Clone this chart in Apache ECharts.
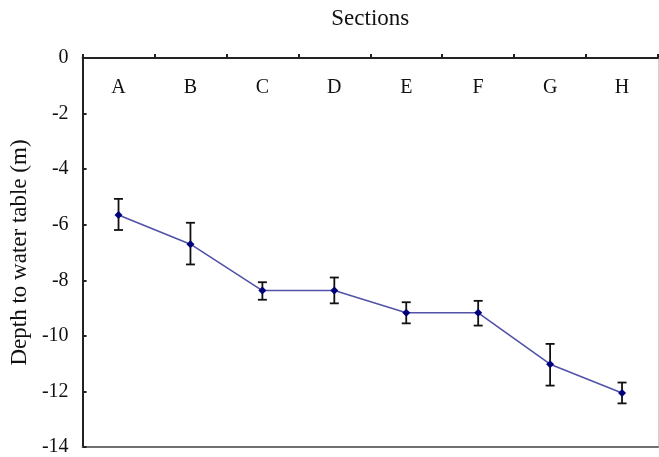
<!DOCTYPE html>
<html>
<head>
<meta charset="utf-8">
<script src="https://cdn.jsdelivr.net/npm/echarts@6/dist/echarts.min.js"></script>
<style>
html,body{margin:0;padding:0;background:#fff;}
#chart{width:659px;height:457px;}
</style>
</head>
<body>
<div id="chart"></div>
<script>
var categories = ['A', 'B', 'C', 'D', 'E', 'F', 'G', 'H'];
var depth = [-5.65, -6.70, -8.37, -8.37, -9.17, -9.17, -11.02, -12.06];
var errUpper = [-5.07, -5.93, -8.07, -7.90, -8.79, -8.74, -10.29, -11.68];
var errLower = [-6.19, -7.43, -8.70, -8.83, -9.55, -9.63, -11.79, -12.43];
var yTicks = [0, -2, -4, -6, -8, -10, -12, -14];

var FONT = '"Liberation Serif", "Times New Roman", serif';
var chart = echarts.init(document.getElementById('chart'));
chart.setOption({
  animation: false,
  backgroundColor: '#fff',
  grid: {left: 82, top: 58, right: 1, bottom: 7, containLabel: false},
  xAxis: [{
    type: 'category',
    position: 'top',
    data: categories,
    boundaryGap: true,
    name: 'Sections',
    nameLocation: 'middle',
    nameGap: 28,
    nameTextStyle: {fontFamily: FONT, fontSize: 23, color: '#111'},
    axisLine: {show: true, onZero: false, lineStyle: {color: '#222', width: 2}},
    axisTick: {show: true, inside: false, length: 4, lineStyle: {color: '#222', width: 2}},
    axisLabel: {inside: true, margin: 20, fontFamily: FONT, fontSize: 20, color: '#111'},
    splitLine: {show: false}
  }, {
    type: 'category',
    position: 'bottom',
    data: categories,
    axisLine: {show: true, onZero: false, lineStyle: {color: '#707070', width: 2}},
    axisTick: {show: false},
    axisLabel: {show: false},
    splitLine: {show: false}
  }],
  yAxis: [{
    type: 'value',
    min: -14,
    max: 0,
    interval: 2,
    name: 'Depth to water table (m)',
    nameLocation: 'middle',
    nameGap: 50,
    nameTextStyle: {fontFamily: FONT, fontSize: 23, color: '#111'},
    axisLine: {show: true, onZero: false, lineStyle: {color: '#222', width: 2}},
    axisTick: {show: true, inside: true, length: 4, lineStyle: {color: '#222', width: 2}},
    axisLabel: {margin: 14, fontFamily: FONT, fontSize: 20, color: '#111',
      formatter: function (v) { return yTicks.indexOf(v) >= 0 ? String(v) : ''; }},
    splitLine: {show: false}
  }, {
    type: 'value',
    position: 'right',
    min: -14,
    max: 0,
    interval: 2,
    axisLine: {show: true, onZero: false, lineStyle: {color: '#d0d0d0', width: 1}},
    axisTick: {show: false},
    axisLabel: {show: false},
    splitLine: {show: false}
  }],
  series: [{
    type: 'custom',
    xAxisIndex: 0,
    yAxisIndex: 0,
    z: 2,
    data: categories.map(function (c, i) { return [i, errUpper[i], errLower[i]]; }),
    renderItem: function (params, api) {
      var x = api.value(0);
      var hi = api.coord([x, api.value(1)]);
      var lo = api.coord([x, api.value(2)]);
      var w = 4.5;
      var style = {stroke: '#111', lineWidth: 1.8};
      return {type: 'group', children: [
        {type: 'line', shape: {x1: hi[0], y1: hi[1], x2: lo[0], y2: lo[1]}, style: style},
        {type: 'line', shape: {x1: hi[0] - w, y1: hi[1], x2: hi[0] + w, y2: hi[1]}, style: style},
        {type: 'line', shape: {x1: lo[0] - w, y1: lo[1], x2: lo[0] + w, y2: lo[1]}, style: style}
      ]};
    }
  }, {
    type: 'line',
    xAxisIndex: 0,
    yAxisIndex: 0,
    z: 3,
    data: depth,
    symbol: 'diamond',
    symbolSize: 8,
    lineStyle: {color: '#5252a8', width: 1.6},
    itemStyle: {color: '#00007a'}
  }]
});
</script>
</body>
</html>
